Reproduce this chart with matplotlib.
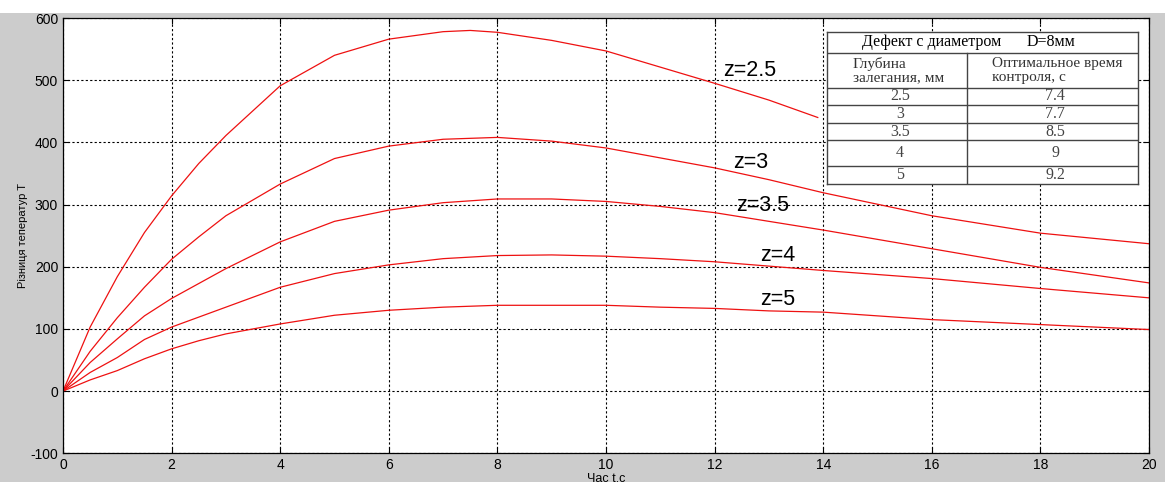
import matplotlib.pyplot as plt
from matplotlib.patches import Rectangle

# значения
t_25 = [0, 0.5, 1, 1.5, 2, 2.5, 3, 4, 5, 6, 7, 7.5, 8, 9, 10, 11, 12, 13, 13.9]
T_25 = [0, 103, 184, 255, 314, 366, 411, 491, 540, 566, 578, 580, 577, 564, 547, 521, 495, 468, 440]

t = [0, 0.5, 1, 1.5, 2, 2.5, 3, 4, 5, 6, 7, 8, 9, 10, 11, 12, 13, 14, 16, 18, 20]
T_3 = [0, 64, 118, 167, 212, 248, 282, 333, 374, 394, 405, 408, 402, 391, 375, 359, 340, 319, 282, 254, 237]
T_35 = [0, 46, 84, 121, 149, 173, 197, 240, 273, 291, 303, 309, 309, 305, 297, 287, 273, 259, 229, 199, 174]
T_4 = [0, 30, 54, 83, 103, 119, 135, 167, 189, 203, 213, 218, 219, 217, 213, 208, 201, 194, 181, 165, 150]
T_5 = [0, 18, 33, 52, 68, 81, 92, 108, 122, 130, 135, 138, 138, 138, 135, 133, 129, 127, 115, 107, 99]

curve_labels = ["z=2.5", "z=3", "z=3.5", "z=4", "z=5"]
label_pos = [(12.15, 516), (12.34, 368), (12.4, 298), (12.84, 218), (12.83, 148)]

table_depth = ["2.5", "3", "3.5", "4", "5"]
table_time = ["7.4", "7.7", "8.5", "9", "9.2"]

plt.rcParams['font.family'] = ['Liberation Sans', 'DejaVu Sans']
plt.rcParams['axes.unicode_minus'] = False

fig = plt.figure(figsize=(11.65, 4.82), dpi=100, facecolor='#cccccc')
fig.add_artist(Rectangle((0, 1 - 13 / 482), 1, 13 / 482, transform=fig.transFigure,
                         facecolor='white', edgecolor='none', zorder=0))

ax = fig.add_axes([63 / 1165, (482 - 453.3) / 482, (1149 - 63) / 1165, (453.3 - 18) / 482])
ax.set_facecolor('white')

for tt, TT in [(t_25, T_25), (t, T_3), (t, T_35), (t, T_4), (t, T_5)]:
    ax.plot(tt, TT, color='#ee1111', lw=0.9)

for lab, (x, y) in zip(curve_labels, label_pos):
    ax.text(x, y, lab, fontsize=15.5, va='center', ha='left')

ax.set_xlim(0, 20)
ax.set_ylim(-100, 600)
ax.set_xticks(range(0, 21, 2))
ax.set_yticks(range(-100, 601, 100))
ax.grid(True, color='black', linestyle=(0, (2, 2)), lw=0.8)
ax.tick_params(direction='in', top=True, right=True, length=4, labelsize=10)
ax.set_xlabel("Час t,c", fontsize=9, labelpad=0)
ax.set_ylabel("Різниця теператур T", fontsize=8, labelpad=2)
for s in ax.spines.values():
    s.set_linewidth(0.9)

# таблица
tab = fig.add_axes([827 / 1165, (482 - 184) / 482, (1138 - 827) / 1165, (184 - 32) / 482])
tab.set_xlim(0, 311)
tab.set_ylim(152, 0)
tab.set_xticks([])
tab.set_yticks([])
tab.set_facecolor('white')
for s in tab.spines.values():
    s.set_color('#444444')
    s.set_linewidth(1.0)

rows = [21, 56, 73, 91, 108, 134]
for r in rows:
    tab.axhline(r, color='#444444', lw=1.0)
tab.plot([140, 140], [21, 152], color='#444444', lw=1.0)

serif = ['Liberation Serif', 'DejaVu Serif']
tab.text(35, 10.5, "Дефект с диаметром", family=serif, fontsize=11.5, va='center', ha='left')
tab.text(200, 10.5, "D=8мм", family=serif, fontsize=11.5, va='center', ha='left')
tab.text(26, 38.5, "Глубина\nзалегания, мм", family=serif, fontsize=11, va='center', ha='left',
         color='#333333', linespacing=1.0)
tab.text(165, 38.5, "Оптимальное время\nконтроля, с", family=serif, fontsize=11, va='center', ha='left',
         color='#333333', linespacing=1.0)

bounds = [56, 73, 91, 108, 134, 152]
for i in range(len(table_depth)):
    yc = (bounds[i] + bounds[i + 1]) / 2
    tab.text(73, yc, table_depth[i], family=serif, fontsize=11.5, va='center', ha='center', color='#444444')
    tab.text(228, yc, table_time[i], family=serif, fontsize=11.5, va='center', ha='center', color='#444444')

fig.savefig("out.png", dpi=100, facecolor=fig.get_facecolor())
